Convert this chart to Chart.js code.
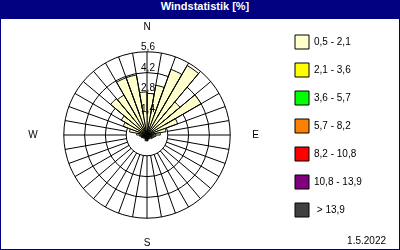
<!DOCTYPE html>
<html>
<head>
<meta charset="utf-8">
<script src="https://cdn.jsdelivr.net/npm/chart.js@4/dist/chart.umd.min.js"></script>
<style>
  body { margin: 0; background: #fff; }
  #wrap { position: relative; width: 400px; height: 250px; overflow: hidden; }
  #chart { position: absolute; left: 0; top: 0; }
  #title {
    position: absolute; left: 0; top: 0; width: 390px; height: 19px; padding-left: 10px;
    background: #000080; color: #fff; text-align: center; line-height: 19px;
    font: bold 11px "Liberation Sans", Arial, sans-serif;
  }
  #frame { position: absolute; left: 0; top: 0; width: 400px; height: 250px; box-sizing: border-box; border: 1px solid #000080; pointer-events: none; }
</style>
</head>
<body>
<div id="wrap">
  <canvas id="chart" width="400" height="250"></canvas>
  <div id="title">Windstatistik [%]</div>
  <div id="frame"></div>
</div>
<script>
// 36 sectors of 10 degrees, clockwise from north
const sectorValues = [
  2.8, 3.4, 4.7, 5.4, 2.9, 4.2, 2.2, 1.3, 0.9,
  0.6, 0.5, 0.4, 0.4, 0.3, 0.3, 0.3, 0.3, 0.4,
  0.4, 0.4, 0.3, 0.3, 0.3, 0.3, 0.4, 0.4, 0.5,
  0.7, 1.2, 1.7, 2.0, 3.2, 3.1, 4.1, 4.1, 2.9
];
const compass = ['N', 'E', 'S', 'W'];
const tickLabels = ['1,4', '2,8', '4,2', '5,6'];
const tickValues = [1.4, 2.8, 4.2, 5.6];
const classLabels = ['0,5 - 2,1', '2,1 - 3,6', '3,6 - 5,7', '5,7 - 8,2', '8,2 - 10,8', '10,8 - 13,9', ' > 13,9'];
const classColors = ['#ffffcc', '#ffff00', '#00ff00', '#ff8000', '#ff0000', '#800080', '#404040'];
const dateText = '1.5.2022';

const FONT = '"Liberation Sans", Arial, sans-serif';

// labels on the radial scale: compass letters every 90 degrees
const labels = sectorValues.map((v, i) => (i % 9 === 0 ? compass[i / 9] : ''));

// legend width, so the legend boxes land at x=295
const mctx = document.createElement('canvas').getContext('2d');
mctx.font = '10px ' + FONT;
let maxText = 0;
classLabels.forEach(t => { maxText = Math.max(maxText, mctx.measureText(t).width); });
const legendWidth = 14 + (14 + 5 + maxText) + 10;
const padRight = 400 - 281 - legendWidth;

const extras = {
  id: 'extras',
  afterDraw(chart) {
    const s = chart.scales.r;
    const ctx = chart.ctx;
    ctx.save();
    // spokes from the 1,4 ring out to the rim
    ctx.strokeStyle = '#000';
    ctx.lineWidth = 1;
    const r0 = s.getDistanceFromCenterForValue(tickValues[0]);
    for (let i = 0; i < labels.length; i++) {
      const a = s.getPointPosition(i, r0);
      const b = s.getPointPosition(i, s.drawingArea);
      ctx.beginPath();
      ctx.moveTo(a.x, a.y);
      ctx.lineTo(b.x, b.y);
      ctx.stroke();
    }
    // ring labels just above each ring
    ctx.fillStyle = '#000';
    ctx.font = '10px ' + FONT;
    ctx.textAlign = 'center';
    ctx.textBaseline = 'alphabetic';
    tickValues.forEach((v, i) => {
      const d = s.getDistanceFromCenterForValue(v);
      ctx.fillText(tickLabels[i], s.xCenter + 1, s.yCenter - d - 2);
    });
    // date
    ctx.textAlign = 'right';
    ctx.fillText(dateText, 386, 244);
    ctx.restore();
  }
};

new Chart(document.getElementById('chart'), {
  type: 'polarArea',
  data: {
    labels: labels,
    datasets: [{
      data: sectorValues,
      backgroundColor: classColors[0],
      borderColor: '#000',
      borderWidth: 1
    }]
  },
  options: {
    responsive: false,
    animation: false,
    layout: { padding: { top: 21, bottom: 1, left: 7, right: padRight } },
    scales: {
      r: {
        min: 0,
        max: 5.6,
        z: 1,
        ticks: { display: false, stepSize: 1.4 },
        grid: { color: '#000', lineWidth: 1, circular: true },
        angleLines: { display: false },
        pointLabels: {
          display: true,
          color: '#000',
          font: { family: FONT, size: 10 },
          padding: c => (c.index === 9 ? 22 : c.index === 27 ? 26 : 18.8)
        }
      }
    },
    plugins: {
      title: { display: false },
      tooltip: { enabled: false },
      legend: {
        position: 'right',
        align: 'start',
        labels: {
          boxWidth: 14,
          boxHeight: 14,
          padding: 14,
          color: '#000',
          font: { family: FONT, size: 10 },
          generateLabels: () => classLabels.map((t, i) => ({
            text: t,
            fillStyle: classColors[i],
            strokeStyle: '#000',
            lineWidth: 1,
            hidden: false,
            index: i
          }))
        }
      }
    }
  },
  plugins: [extras]
});
</script>
</body>
</html>
